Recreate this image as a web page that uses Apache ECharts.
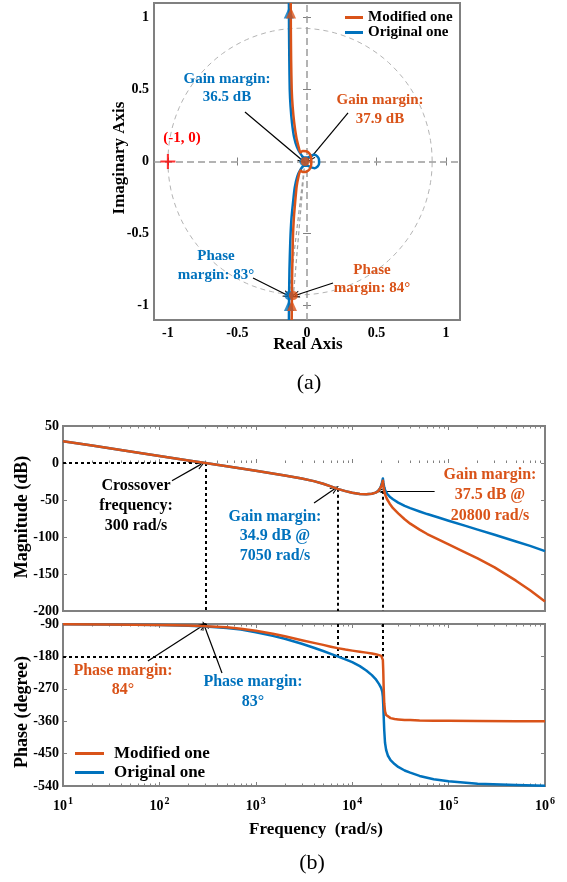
<!DOCTYPE html>
<html><head><meta charset="utf-8">
<script src="https://cdn.jsdelivr.net/npm/echarts@6/dist/echarts.min.js"></script>
<style>html,body{margin:0;padding:0;background:#fff}#c{width:567px;height:882px}</style>
</head><body><div id="c"></div>
<script>
// ================= DATA =================
// (a) Nyquist diagram  (real, imaginary), drawn top -> bottom
const nyqOrigRe = [-0.130,-0.129,-0.127,-0.124,-0.118,-0.108,-0.093,-0.072,-0.047,-0.022,0.003,0.028,0.053,0.074,0.086,0.087,0.077,0.055,0.030,0.004,-0.022,-0.048,-0.070,-0.088,-0.100,-0.112,-0.120,-0.126,-0.129,-0.130];
const nyqOrigIm = [1.10,0.90,0.70,0.50,0.38,0.27,0.17,0.10,0.055,0.028,0.027,0.040,0.046,0.036,0.016,-0.012,-0.034,-0.046,-0.041,-0.029,-0.030,-0.058,-0.105,-0.180,-0.280,-0.400,-0.550,-0.750,-0.950,-1.10];
const nyqModRe = [-0.117,-0.116,-0.114,-0.110,-0.103,-0.092,-0.077,-0.060,-0.048,-0.030,-0.005,0.017,0.029,0.031,0.029,0.017,-0.005,-0.030,-0.048,-0.060,-0.074,-0.085,-0.095,-0.102,-0.107,-0.110];
const nyqModIm = [1.10,0.90,0.70,0.50,0.38,0.27,0.17,0.10,0.063,0.073,0.071,0.056,0.030,0.000,-0.030,-0.056,-0.071,-0.073,-0.063,-0.100,-0.170,-0.280,-0.400,-0.550,-0.800,-1.100];
const nyqTicks = [-1, -0.5, 0, 0.5, 1];
const criticalPoint = [-1, 0];
const dirOrig = [[-0.131, 1.03], [-0.130, -1.00]];   // direction triangles
const dirMod  = [[-0.115, 1.03], [-0.108, -1.00]];
const pmPointOrig = [-0.129, -0.93], pmPointMod = [-0.098, -0.93];
const gmPointOrig = [-0.022, 0.0],  gmPointMod = [-0.013, 0.0];
const refCircleCenter = [-0.05, 0], refCircleRadius = [0.95, 0.925];

// (b) Bode diagram
const magFreq = [10,20,50,100,200,300,500,1000,2000,3000,4000,5000,6000,7050,8500,10000,12000,14000,16000,17500,18500,19300,19900,20400,20800,21100,21500,22000,23000,24500,26500,30000,35000,40000,50000,60000,80000,100000,150000,200000,300000,500000,700000,1000000];
const magOrig = [29.5,23.5,15.5,9.5,3.5,0,-4.5,-10.6,-17,-21,-24.5,-28,-31.5,-34.9,-38,-40.2,-41.8,-42.3,-41.5,-40,-38,-35,-31,-26,-21,-27,-33,-37,-41.5,-45.5,-49,-53.5,-58,-61,-65.5,-69,-74,-78,-85,-90,-97,-106,-112,-119];
const magMod  = [29.5,23.5,15.5,9.5,3.5,0,-4.5,-10.6,-17,-21,-24.5,-28,-31.5,-34.9,-38,-40.2,-41.8,-42.3,-41.5,-40,-38.5,-36,-32.5,-28.5,-24,-31,-38,-43,-49,-55,-61,-68,-76,-82,-90,-96,-104,-110,-121,-129,-141,-159,-172,-187];
const phaseFreq = [10,30,100,200,300,500,700,1000,1500,2000,3000,4000,5000,6000,7050,8500,10000,12000,14000,16000,17500,19000,20000,20500,20800,21000,21200,21500,21900,22500,23500,25000,27500,30000,35000,40000,50000,70000,100000,200000,500000,1000000];
const phaseOrig = [-91,-91.5,-93,-95,-97,-101,-105.5,-113,-123,-131,-145,-156,-165,-173,-180,-188.5,-196,-207,-219,-232,-243,-257,-268,-278,-292,-315,-345,-385,-420,-440,-456,-468,-479,-487,-497,-503,-512,-521,-527,-534,-537.5,-539];
const phaseMod  = [-91,-91.5,-92.5,-94,-96,-99,-103,-109,-117,-124,-135,-142.5,-148,-153,-157,-161,-164,-167,-169.5,-172,-174,-176.5,-178.5,-180,-190,-220,-265,-310,-333,-343,-348,-351.5,-354,-355,-356.5,-357,-358,-358.5,-359,-359.5,-360,-360];
const freqExps = [1,2,3,4,5,6];
const crossoverFreq = 300, gmFreqOrig = 7050, gmFreqMod = 20800, gmDbOrig = 34.9, gmDbMod = 37.5;

// ================= CHART =================
const FONT = "'Liberation Serif','Times New Roman',serif";
const C_MOD = '#D95319', C_ORIG = '#0072BD', FRAME = '#808080';
const zip = (a, b) => a.map((v, i) => [v, b[i]]);
const majorF = freqExps.map(e => Math.pow(10, e));
const minorF = [];
for (let e = 1; e < 6; e++) for (let k = 2; k <= 9; k++) minorF.push(k * Math.pow(10, e));
const ARROW = 'path://M5,0 L10,12 L8.4,12 L5,3.4 L1.6,12 L0,12 Z';

const circlePts = [];
for (let a = 0; a <= 360; a += 3) {
  const t = a * Math.PI / 180;
  circlePts.push([refCircleCenter[0] + refCircleRadius[0] * Math.cos(t), refCircleCenter[1] + refCircleRadius[1] * Math.sin(t)]);
}

const tickStyle = {color: FRAME, width: 1};
const lblStyle = {fontFamily: FONT, fontWeight: 'bold', fontSize: 14, color: '#000'};

function nyqX(pos) {
  return {type: 'value', gridIndex: 0, min: -1.1, max: 1.1, position: pos,
    axisLine: {show: false}, splitLine: {show: false},
    axisTick: {show: true, inside: true, length: 4, customValues: nyqTicks, lineStyle: tickStyle},
    axisLabel: pos === 'bottom' ? Object.assign({customValues: nyqTicks, margin: 6, formatter: v => String(v)}, lblStyle) : {show: false}};
}
function nyqY(pos) {
  return {type: 'value', gridIndex: 0, min: -1.1, max: 1.1, position: pos,
    axisLine: {show: false}, splitLine: {show: false},
    axisTick: {show: true, inside: true, length: 4, customValues: nyqTicks, lineStyle: tickStyle},
    axisLabel: pos === 'left' ? Object.assign({customValues: nyqTicks, margin: 5, formatter: v => String(v)}, lblStyle) : {show: false}};
}
function logX(grid, pos, minor, labels) {
  return {type: 'log', logBase: 10, gridIndex: grid, min: 10, max: 1e6, position: pos,
    axisLine: {show: false}, splitLine: {show: false},
    axisTick: {show: true, inside: true, length: minor ? 2.5 : 4, customValues: minor ? minorF : majorF, lineStyle: tickStyle},
    axisLabel: labels ? {customValues: majorF, margin: 9,
      formatter: v => '{b|10}{s|' + Math.round(Math.log10(v)) + '}',
      rich: {b: {fontFamily: FONT, fontWeight: 'bold', fontSize: 14, color: '#000', verticalAlign: 'bottom', lineHeight: 18},
             s: {fontFamily: FONT, fontWeight: 'bold', fontSize: 10, color: '#000', verticalAlign: 'bottom', lineHeight: 18, padding: [0, 0, 7, 1]}}}
      : {show: false}};
}
function linY(grid, pos, min, max, interval) {
  return {type: 'value', gridIndex: grid, min, max, interval, position: pos,
    axisLine: {show: false}, splitLine: {show: false},
    axisTick: {show: true, inside: true, length: 4, lineStyle: tickStyle},
    axisLabel: pos === 'left' ? Object.assign({margin: 4, showMinLabel: true, showMaxLabel: true, formatter: v => String(v)}, lblStyle) : {show: false}};
}

function arrows(xi, yi, list) {
  return {type: 'line', xAxisIndex: xi, yAxisIndex: yi, data: [], silent: true, z: 20,
    markLine: {silent: true, symbol: ['none', ARROW], symbolSize: [7, 9], label: {show: false},
      lineStyle: {color: '#000', width: 1.2, type: 'solid'}, itemStyle: {color: '#000'},
      data: list.map(p => [{coord: p[0]}, {coord: p[1]}])}};
}
function guides(xi, yi, list) {
  return {type: 'line', xAxisIndex: xi, yAxisIndex: yi, data: [], silent: true, z: 3,
    markLine: {silent: true, symbol: 'none', label: {show: false},
      lineStyle: {color: '#000', width: 2, type: [3, 3]},
      data: list.map(p => [{coord: p[0]}, {coord: p[1]}])}};
}
function curve(name, xi, yi, data, color, smooth) {
  return {name, type: 'line', xAxisIndex: xi, yAxisIndex: yi, data, showSymbol: false, symbol: 'none',
    smooth: smooth, lineStyle: {color, width: 2.5, join: 'round'}, itemStyle: {color}, z: 5, silent: true};
}
function dots(xi, yi, data, symbol, size, color, z) {
  return {type: 'scatter', xAxisIndex: xi, yAxisIndex: yi, data, symbol, symbolSize: size,
    itemStyle: {color}, z: z, silent: true};
}
function txt(x, y, text, color, size, lh, rot) {
  return {type: 'text', x, y, rotation: rot || 0, z: 100, silent: true,
    style: {text, fontFamily: FONT, fontWeight: 'bold', fontSize: size, lineHeight: lh, fill: color,
      align: 'center', verticalAlign: 'middle', textAlign: 'center', textVerticalAlign: 'middle'}};
}

const option = {
  animation: false,
  backgroundColor: '#fff',
  grid: [
    {left: 154, top: 3, width: 306, height: 317, show: true, borderColor: FRAME, borderWidth: 2, backgroundColor: 'transparent'},
    {left: 63, top: 426, width: 482, height: 185, show: true, borderColor: FRAME, borderWidth: 2, backgroundColor: 'transparent'},
    {left: 63, top: 624, width: 482, height: 162, show: true, borderColor: FRAME, borderWidth: 2, backgroundColor: 'transparent'}
  ],
  xAxis: [nyqX('bottom'), nyqX('top'),
    logX(1, 'bottom', false, false), logX(1, 'bottom', true, false), logX(1, 'top', false, false), logX(1, 'top', true, false),
    logX(2, 'bottom', false, true), logX(2, 'bottom', true, false), logX(2, 'top', false, false), logX(2, 'top', true, false)],
  yAxis: [nyqY('left'), nyqY('right'),
    linY(1, 'left', -200, 50, 50), linY(1, 'right', -200, 50, 50),
    linY(2, 'left', -540, -90, 90), linY(2, 'right', -540, -90, 90)],
  legend: [
    {orient: 'vertical', left: 345, top: 10, padding: 0, itemWidth: 18, itemHeight: 3, itemGap: 0, icon: 'rect', selectedMode: false,
      textStyle: {fontFamily: FONT, fontWeight: 'bold', fontSize: 15, color: '#000', lineHeight: 15},
      data: [{name: 'Modified one', itemStyle: {color: C_MOD}}, {name: 'Original one', itemStyle: {color: C_ORIG}}]},
    {orient: 'vertical', left: 75, top: 744, padding: 0, itemWidth: 29, itemHeight: 3, itemGap: 0, icon: 'rect', selectedMode: false,
      textStyle: {fontFamily: FONT, fontWeight: 'bold', fontSize: 17, color: '#000', lineHeight: 19, padding: [0, 0, 0, 5]},
      data: [{name: 'Modified one', itemStyle: {color: C_MOD}}, {name: 'Original one', itemStyle: {color: C_ORIG}}]}
  ],
  series: [
    // ---- Nyquist guides ----
    {type: 'line', xAxisIndex: 0, yAxisIndex: 0, data: circlePts, showSymbol: false, symbol: 'none', silent: true, z: 1,
      lineStyle: {color: '#b4b4b4', width: 1, type: [5, 4]},
      markLine: {silent: true, symbol: 'none', label: {show: false}, lineStyle: {color: '#9a9a9a', width: 1.5, type: [7, 4]},
        data: [{xAxis: 0}, {yAxis: 0}]}},
    {type: 'line', xAxisIndex: 0, yAxisIndex: 0, silent: true, z: 1, showSymbol: false, symbol: 'none',
      lineStyle: {color: '#a0a0a0', width: 1.2, type: [4, 3]},
      data: [[-0.015, 0], pmPointOrig, null, [-0.015, 0], pmPointMod], connectNulls: false},
    curve('Original one', 0, 0, zip(nyqOrigRe, nyqOrigIm), C_ORIG, 0.2),
    curve('Modified one', 0, 0, zip(nyqModRe, nyqModIm), C_MOD, 0.2),
    dots(0, 0, dirOrig, 'triangle', [10, 11], C_ORIG, 6),
    dots(0, 0, dirMod, 'triangle', [10, 11], C_MOD, 7),
    dots(0, 0, [pmPointOrig, gmPointOrig], 'circle', 9, C_ORIG, 6),
    dots(0, 0, [pmPointMod, gmPointMod], 'circle', 9, C_MOD, 7),
    dots(0, 0, [criticalPoint], 'path://M4.3,0 H5.7 V4.3 H10 V5.7 H5.7 V10 H4.3 V5.7 H0 V4.3 H4.3 Z', 15, '#ff0000', 8),
    arrows(0, 0, [
      [[-0.446, 0.344], [-0.03, 0.005]],
      [[0.295, 0.337], [0.02, 0.018]],
      [[-0.388, -0.808], [-0.137, -0.93]],
      [[0.187, -0.843], [-0.087, -0.93]]]),
    // ---- Magnitude ----
    guides(2, 2, [
      [[10, 0], [crossoverFreq, 0]],
      [[crossoverFreq, 0], [crossoverFreq, -200]],
      [[gmFreqOrig, -gmDbOrig], [gmFreqOrig, -200]],
      [[gmFreqMod, -gmDbMod], [gmFreqMod, -200]]]),
    curve('Original one', 2, 2, zip(magFreq, magOrig), C_ORIG, false),
    curve('Modified one', 2, 2, zip(magFreq, magMod), C_MOD, false),
    arrows(2, 2, [
      [[135, -24], [272, -1.5]],
      [[4020, -54], [6650, -34.5]],
      [[71600, -37.8], [19900, -37.8]]]),
    // ---- Phase ----
    guides(6, 4, [
      [[10, -180], [gmFreqMod, -180]],
      [[crossoverFreq, -90], [crossoverFreq, -96]],
      [[gmFreqOrig, -90], [gmFreqOrig, -180]],
      [[gmFreqMod, -90], [gmFreqMod, -180]]]),
    curve('Original one', 6, 4, zip(phaseFreq, phaseOrig), C_ORIG, false),
    curve('Modified one', 6, 4, zip(phaseFreq, phaseMod), C_MOD, false),
    arrows(6, 4, [
      [[76, -193], [283, -94]],
      [[446, -226], [292, -94]]])
  ],
  graphic: [
    // Nyquist texts
    txt(227, 88, 'Gain margin:\n36.5 dB', C_ORIG, 15, 18),
    txt(380, 109.5, 'Gain margin:\n37.9 dB', C_MOD, 15, 19),
    txt(216, 265.5, 'Phase\nmargin: 83°', C_ORIG, 15, 19),
    txt(372, 279, 'Phase\nmargin: 84°', C_MOD, 15, 18),
    txt(182, 138, '(-1, 0)', '#ff0000', 15, 18),
    txt(308, 345, 'Real Axis', '#000', 17, 20),
    txt(120, 158, 'Imaginary Axis', '#000', 17, 20, Math.PI / 2),
    {type: 'text', x: 309, y: 383, z: 100, style: {text: '(a)', font: '22px ' + FONT, fill: '#000', align: 'center', verticalAlign: 'middle', textAlign: 'center', textVerticalAlign: 'middle'}},
    // Bode texts
    txt(136, 506, 'Crossover\nfrequency:\n300 rad/s', '#000', 16, 20),
    txt(275, 536, 'Gain margin:\n34.9 dB @\n7050 rad/s', C_ORIG, 16, 19.5),
    txt(490, 495, 'Gain margin:\n37.5 dB @\n20800 rad/s', C_MOD, 16, 20.5),
    txt(123, 680.5, 'Phase margin:\n84°', C_MOD, 16, 19),
    txt(253, 692, 'Phase margin:\n83°', C_ORIG, 16, 20),
    txt(22, 517, 'Magnitude (dB)', '#000', 18, 20, Math.PI / 2),
    txt(22, 712, 'Phase (degree)', '#000', 18, 20, Math.PI / 2),
    txt(316, 830, 'Frequency  (rad/s)', '#000', 17, 20),
    {type: 'text', x: 312, y: 863, z: 100, style: {text: '(b)', font: '22px ' + FONT, fill: '#000', align: 'center', verticalAlign: 'middle', textAlign: 'center', textVerticalAlign: 'middle'}}
  ]
};

const chart = echarts.init(document.getElementById('c'), null, {renderer: 'canvas'});
chart.setOption(option);
</script>
</body></html>
